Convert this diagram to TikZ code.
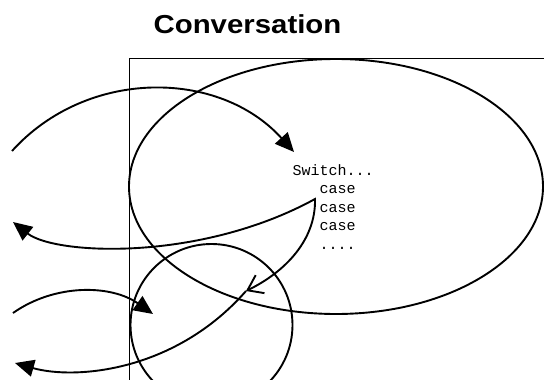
\documentclass[tikz,border=0pt]{standalone}
\usepackage{fontspec}
\usepackage{graphicx}
\setmainfont{Liberation Sans}
\newfontfamily\codefont{Liberation Mono}
\usetikzlibrary{arrows.meta}
\definecolor{inkblack}{RGB}{0,0,0}

\begin{document}
\begin{tikzpicture}[x=1pt, y=-1pt,
    stroke/.style={inkblack, line width=1.9pt},
    fullhead/.style={-{Triangle[length=19pt, width=17pt]}},
    openhead/.style={{Straight Barb[length=14pt, width=20pt]}-{Triangle[length=19pt, width=17pt]}}]
    \useasboundingbox (0,0) rectangle (544,380);
    \clip (0,0) rectangle (544,380);
    % === Title ===
    \node[font=\fontsize{26}{30}\selectfont\bfseries, inkblack] (title) at (247.5,24) {\scalebox{1.13}[1]{Conversation}};
    % === Frame and the two ellipses ===
    \draw[stroke] (129.5,400) -- (129.5,58.5) -- (560,58.5);
    \draw[stroke] (336,186.5) ellipse [x radius=207, y radius=127.5];
    \draw[stroke] (211.5,325) circle [radius=81];
    % === Code text ===
    \node[font=\codefont\fontsize{15}{18.5}\selectfont, anchor=base west, align=left, inner sep=0pt] (switch) at (292.5,249.3)
      {Switch...\\\phantom{Swi}case\\\phantom{Swi}case\\\phantom{Swi}case\\\phantom{Swi}....};
    % === Arrows ===
    \coordinate (inTop) at (12,151);
    \coordinate (caseIn) at (294,152);
    \coordinate (cusp) at (315,199);
    \coordinate (outTop) at (13,222);
    \coordinate (loop) at (246,291);
    \coordinate (outLow) at (15,363);
    \coordinate (inLow) at (13,313);
    \coordinate (circleIn) at (153,314);
    % incoming, top
    \draw[stroke, fullhead] (inTop) .. controls (87,68) and (219,69) .. (caseIn);
    % teardrop out of the cases
    \draw[stroke, openhead] (loop) .. controls (285,272) and (316,240) .. (cusp)
      .. controls (200,262) and (55,255) .. (outTop);
    \draw[stroke, fullhead] (loop) .. controls (175,372) and (75,380) .. (outLow);
    % incoming, low
    \draw[stroke, fullhead] (inLow) .. controls (55,283.5) and (111,284.5) .. (circleIn);
\end{tikzpicture}
\end{document}
